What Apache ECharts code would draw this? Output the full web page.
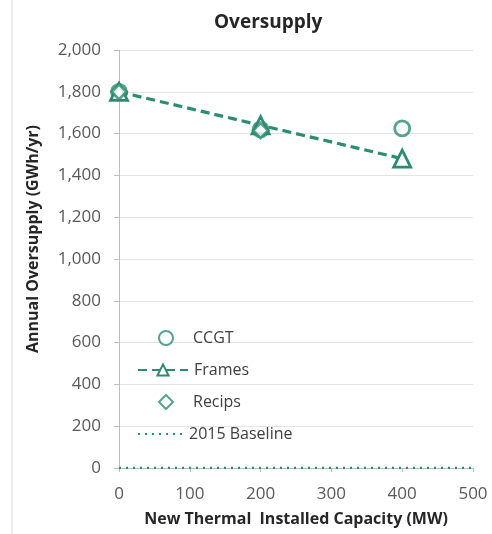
<!DOCTYPE html>
<html>
<head>
<meta charset="utf-8">
<script src="https://cdn.jsdelivr.net/npm/echarts@6/dist/echarts.min.js"></script>
<style>html,body{margin:0;padding:0;background:#fff}#c{width:492px;height:534px}</style>
</head>
<body>
<div id="c"></div>
<script>
const capacity = [0, 200, 400];
const ccgt = [1800, 1620, 1625];
const frames = [1800, 1640, 1480];
const recips = [1800, 1615];
const baselineX = [0, 500];
const baseline = [0, 0];
const yTicks = [0, 200, 400, 600, 800, 1000, 1200, 1400, 1600, 1800, 2000];

const teal = '#2b8d70';
const font = '"Open Sans", Lato, sans-serif';
const chart = echarts.init(document.getElementById('c'));
const pair = (xs, ys) => ys.map((v, i) => [xs[i], v]);

const legendText = { fontFamily: font, fontSize: 16, color: '#404040' };
function legendFor(name, left, top, w, extra) {
  return Object.assign({
    orient: 'vertical', left: left, top: top, itemWidth: w, itemHeight: 14,
    textStyle: Object.assign({}, legendText), data: [name], selectedMode: false
  }, extra || {});
}

chart.setOption({
  animation: false,
  backgroundColor: '#fff',
  title: {
    text: 'Oversupply', left: 209, top: 8,
    textStyle: { fontFamily: font, fontSize: 19, fontWeight: 'bold', color: '#262626' }
  },
  grid: { left: 119, right: 19, top: 50, bottom: 66 },
  xAxis: {
    type: 'value', min: 0, max: 500, interval: 100,
    name: 'New Thermal  Installed Capacity (MW)', nameLocation: 'middle', nameGap: 43,
    nameTextStyle: { fontFamily: font, fontSize: 16, fontWeight: 'bold', color: '#262626' },
    axisLine: { show: true, lineStyle: { color: '#bfbfbf' } },
    axisTick: { show: true, length: 4, lineStyle: { color: '#bfbfbf' } },
    axisLabel: { fontFamily: font, fontSize: 17, color: '#595959', margin: 18 },
    splitLine: { show: false }
  },
  yAxis: {
    type: 'value', min: 0, max: 2000, interval: 200,
    name: 'Annual Oversupply (GWh/yr)', nameLocation: 'middle', nameGap: 78,
    nameTextStyle: { fontFamily: font, fontSize: 16, fontWeight: 'bold', color: '#262626', padding: [0, 0, 0, 40] },
    axisLine: { show: true, lineStyle: { color: '#bfbfbf' } },
    axisTick: { show: true, length: 5, lineStyle: { color: '#bfbfbf' } },
    axisLabel: {
      fontFamily: font, fontSize: 17, color: '#595959', margin: 18,
      formatter: v => yTicks.includes(v) ? v.toLocaleString('en-US') : ''
    },
    splitLine: { show: true, lineStyle: { color: '#e3e3e3' } }
  },
  legend: [
    legendFor('CCGT', 153, 325, 14, { textStyle: Object.assign({}, legendText, { padding: [0, 0, 0, 15] }) }),
    legendFor('Frames', 132, 357, 50, { textStyle: Object.assign({}, legendText, { padding: [0, 0, 0, 1] }) }),
    legendFor('Recips', 153, 389, 14, { textStyle: Object.assign({}, legendText, { padding: [0, 0, 0, 15] }) }),
    legendFor('2015 Baseline', 132, 421, 46, { itemStyle: { opacity: 0 } })
  ],
  graphic: [{
    type: 'line', shape: { x1: 12, y1: 0, x2: 12, y2: 534 },
    style: { stroke: '#d9d9d9', lineWidth: 1 }
  }],
  series: [
    {
      name: 'CCGT', type: 'scatter', data: pair(capacity, ccgt),
      symbol: 'circle', symbolSize: 15,
      itemStyle: { color: '#fff', borderColor: teal, borderWidth: 2.8 }, z: 3
    },
    {
      name: 'Frames', type: 'line', data: pair(capacity, frames),
      symbol: 'triangle', symbolSize: 17, showSymbol: true,
      lineStyle: { color: teal, width: 3.2, type: [9, 5] },
      itemStyle: { color: '#fff', borderColor: teal, borderWidth: 2.8 }, z: 4
    },
    {
      name: 'Recips', type: 'scatter', data: pair(capacity, recips),
      symbol: 'diamond', symbolSize: 15,
      itemStyle: { color: '#fff', borderColor: teal, borderWidth: 2.8 }, z: 5
    },
    {
      name: '2015 Baseline', type: 'line', data: pair(baselineX, baseline),
      symbol: 'none', itemStyle: { color: teal },
      lineStyle: { color: teal, width: 2.5, type: [2, 5] }, z: 6
    }
  ]
});
</script>
</body>
</html>
